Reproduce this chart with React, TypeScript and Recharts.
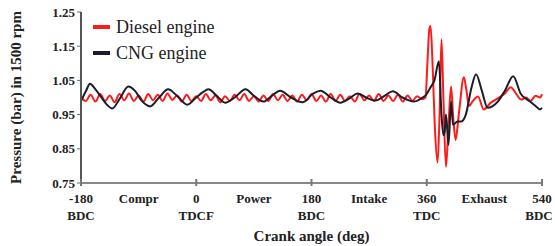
import React from "react";
import { Line, LineChart, XAxis, YAxis } from "recharts";

// crank angle ticks and the two-line labels under them
const angleTicks = [-180, -90, 0, 90, 180, 270, 360, 450, 540];
const angleTop = ["-180", "Compr", "0", "Power", "180", "Intake", "360", "Exhaust", "540"];
const angleBottom = ["BDC", "", "TDCF", "", "BDC", "", "TDC", "", "BDC"];
const pressureTicks = [0.75, 0.85, 0.95, 1.05, 1.15, 1.25];

const seriesNames = ["Diesel engine", "CNG engine"];
const seriesColors = ["#ff1a1a", "#1c1c2a"];

// diesel engine pressure (bar)
const dieselAngle = [
  -180, -172.5, -165, -157.5, -150, -142.5, -135, -127.5, -120, -112.5, -105, -97.5,
  -90, -82.5, -75, -67.5, -60, -52.5, -45, -37.5, -30, -22.5, -15, -7.5,
  0, 7.5, 15, 22.5, 30, 37.5, 45, 52.5, 60, 67.5, 75, 82.5,
  90, 97.5, 105, 112.5, 120, 127.5, 135, 142.5, 150, 157.5, 165, 172.5,
  180, 187.5, 195, 202.5, 210, 217.5, 225, 232.5, 240, 247.5, 255, 262.5,
  270, 277.5, 285, 292.5, 300, 307.5, 315, 322.5, 330, 337.5, 345, 352.5,
  358, 361, 364, 366, 369, 373, 377, 380, 383, 386, 390, 394,
  398, 401, 405, 410, 418, 422, 426, 432, 440, 449, 460, 473,
  482, 491, 500, 507, 515, 522, 530, 537, 540,
];
const dieselPressure = [
  1.0, 0.99, 1.008, 0.988, 1.01, 0.99, 1.006, 0.986, 1.01, 0.992, 1.012, 0.99,
  1.006, 0.988, 1.01, 0.992, 1.008, 0.99, 1.012, 0.993, 1.006, 0.988, 1.008, 0.99,
  1.004, 0.99, 1.01, 0.992, 1.006, 0.986, 1.004, 0.99, 1.008, 0.992, 1.01, 0.99,
  1.004, 0.988, 1.006, 0.99, 1.01, 0.992, 1.008, 0.99, 1.006, 0.988, 1.008, 0.992,
  1.01, 0.99, 1.006, 0.988, 1.01, 0.99, 1.008, 0.99, 1.004, 0.988, 1.01, 0.992,
  1.006, 0.99, 1.01, 0.99, 1.006, 0.99, 1.008, 0.988, 1.006, 0.99, 1.004, 0.995,
  1.0, 1.1, 1.2, 1.209, 1.1, 0.9, 0.81, 0.95, 1.17, 1.0, 0.797, 0.92,
  1.032, 0.95, 0.876, 0.95, 1.059, 1.02, 0.975, 0.99, 1.003, 0.965, 0.985, 1.0,
  1.012, 1.03, 1.01, 0.994, 1.0, 0.99, 1.005, 1.0, 1.01,
];

// CNG engine pressure (bar)
const cngAngle = [
  -180, -172, -166, -158, -148, -140, -131, -120, -106, -96, -85, -72,
  -58, -44, -30, -14, 0, 10, 19, 32, 45, 60, 77, 90,
  105, 118, 131, 148, 166, 183, 194, 210, 225, 240, 252, 265,
  280, 294, 307, 322, 340, 352, 359, 366, 372, 379, 383, 386,
  388, 390, 394, 398, 401, 408, 414, 421, 430, 437, 446, 455,
  463, 471, 482, 495, 507, 520, 530, 537, 540,
];
const cngPressure = [
  0.99, 1.02, 1.04, 1.025, 1.0, 0.98, 0.968, 0.995, 1.032, 1.02, 0.99, 0.974,
  1.0, 1.024, 1.005, 0.979, 1.0, 1.015, 1.024, 1.005, 0.985, 1.0, 1.024, 1.005,
  0.988, 1.005, 1.02, 1.0, 0.986, 1.012, 1.02, 1.0, 0.985, 0.998, 1.012, 1.0,
  0.991, 1.005, 1.018, 1.0, 0.988, 0.998, 1.008, 1.03, 1.05, 1.106, 0.95, 0.89,
  0.9, 0.95, 0.862, 0.988, 0.92, 0.93, 0.93, 0.95, 1.03, 1.068, 1.02, 0.97,
  0.975, 0.988, 1.02, 1.062, 1.01, 0.99, 0.975, 0.965, 0.97,
];

const dieselData = dieselAngle.map((angle, i) => ({ angle, pressure: dieselPressure[i] }));
const cngData = cngAngle.map((angle, i) => ({ angle, pressure: cngPressure[i] }));

const FONT = "'Liberation Serif', 'Times New Roman', serif";

function AngleTick(props: any) {
  const { x, y, payload } = props;
  const i = angleTicks.indexOf(payload.value);
  const major = i % 2 === 0;
  return (
    <g>
      {major && <line x1={x} x2={x} y1={y - 4} y2={y + 3} stroke="#777" strokeWidth={2} />}
      <text x={x} y={y + 20} textAnchor="middle" fontFamily={FONT} fontWeight="bold" fontSize={13} fill="#222">
        {angleTop[i]}
      </text>
      {angleBottom[i] && (
        <text x={x - (i === 8 ? 3 : 0)} y={y + 37} textAnchor="middle" fontFamily={FONT} fontWeight="bold" fontSize={13} fill="#222">
          {angleBottom[i]}
        </text>
      )}
    </g>
  );
}

export default function App() {
  return (
    <div style={{ position: "absolute", left: 0, top: 0, width: 555, height: 246, background: "#fff" }}>
      <LineChart width={555} height={246} margin={{ top: 12, right: 13, bottom: 0, left: 0 }}>
        <XAxis
          dataKey="angle"
          type="number"
          domain={[-180, 540]}
          ticks={angleTicks}
          interval={0}
          allowDuplicatedCategory={false}
          height={63}
          tickLine={false}
          tickSize={0}
          tickMargin={0}
          tick={<AngleTick />}
          axisLine={{ stroke: "#888", strokeWidth: 2 }}
          label={{
            value: "Crank angle (deg)",
            position: "insideBottom",
            offset: 5,
            style: { fontFamily: FONT, fontWeight: "bold", fontSize: 15, fill: "#222" },
          }}
        />
        <XAxis
          xAxisId="top"
          orientation="top"
          type="number"
          domain={[-180, 540]}
          height={0}
          tick={false}
          tickLine={false}
          axisLine={{ stroke: "#999", strokeWidth: 2 }}
        />
        <YAxis
          type="number"
          domain={[0.75, 1.25]}
          ticks={pressureTicks}
          interval={0}
          width={81}
          tickSize={4}
          tickLine={{ stroke: "#666" }}
          axisLine={{ stroke: "#555", strokeWidth: 2 }}
          tickFormatter={(v: number) => v.toFixed(2)}
          tick={{ fontFamily: FONT, fontWeight: "bold", fontSize: 13, fill: "#222" }}
          label={{
            value: "Pressure (bar) in 1500 rpm",
            angle: -90,
            position: "insideLeft",
            offset: 16,
            style: { fontFamily: FONT, fontWeight: "bold", fontSize: 15, fill: "#222", textAnchor: "middle" },
          }}
        />
        <YAxis
          yAxisId="right"
          orientation="right"
          type="number"
          domain={[0.75, 1.25]}
          width={0}
          tick={false}
          tickLine={false}
          axisLine={{ stroke: "#333", strokeWidth: 3 }}
        />
        <Line
          data={dieselData}
          dataKey="pressure"
          name={seriesNames[0]}
          type="monotone"
          stroke={seriesColors[0]}
          strokeWidth={2}
          dot={false}
          isAnimationActive={false}
        />
        <Line
          data={cngData}
          dataKey="pressure"
          name={seriesNames[1]}
          type="monotone"
          stroke={seriesColors[1]}
          strokeWidth={2}
          dot={false}
          isAnimationActive={false}
        />
      </LineChart>
      <div
        style={{
          position: "absolute",
          left: 93,
          top: 14,
          fontFamily: FONT,
          fontSize: 18,
          color: "#222",
        }}
      >
        {seriesNames.map((name, i) => (
          <div key={name} style={{ display: "flex", alignItems: "center", height: 26 }}>
            <span style={{ display: "inline-block", width: 17, height: 4, background: seriesColors[i], marginRight: 6 }} />
            <span>{name}</span>
          </div>
        ))}
      </div>
    </div>
  );
}
